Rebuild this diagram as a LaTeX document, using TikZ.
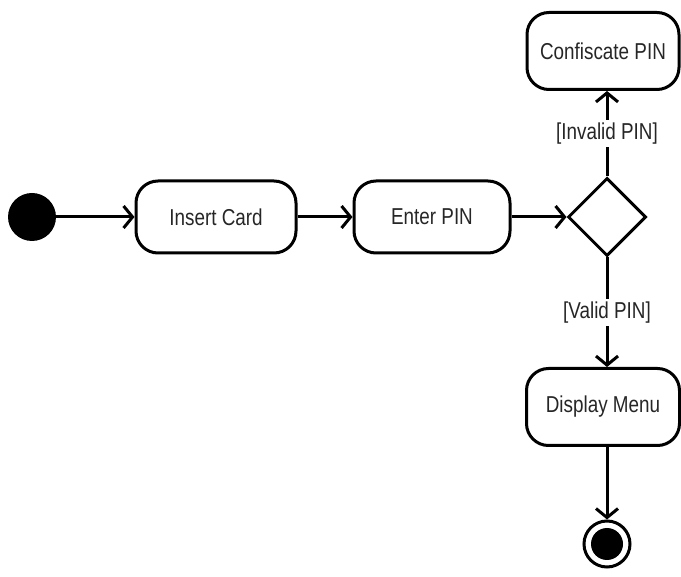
\documentclass[tikz,border=0pt]{standalone}
\usepackage{fontspec}
\setmainfont[FakeStretch=0.82]{Liberation Sans}
\usetikzlibrary{shapes.geometric,arrows.meta}
\tikzset{
  act/.style={draw, line width=3pt, rounded corners=22pt, minimum width=156pt,
    minimum height=72pt, inner sep=0pt, text=black!85},
  flow/.style={line width=3pt, -{Straight Barb[length=9pt,width=22pt,line width=3pt]}},
  guard/.style={fill=white, inner sep=3pt, text=black!85}
}
\begin{document}
\begin{tikzpicture}[x=1pt, y=-1pt, font=\fontsize{23}{26}\selectfont]
  \useasboundingbox (0,0) rectangle (681,577);
  % start and activities
  \node[circle, fill=black, minimum size=48pt, inner sep=0pt] (start) at (32,217) {};
  \node[act, minimum width=160pt] (insert) at (216,217) {Insert Card};
  \node[act] (enter) at (432,217) {Enter PIN};
  \node[diamond, draw, line width=3pt, minimum width=78pt, minimum height=78pt,
    inner sep=0pt] (check) at (607,217) {};
  \node[act, minimum width=152pt, minimum height=77pt] (confiscate) at (603,51) {Confiscate PIN};
  \node[act, minimum width=153pt, minimum height=77pt] (menu) at (603,407) {Display Menu};
  % end state
  \node[circle, draw, line width=3pt, minimum size=46pt, inner sep=0pt] (stop) at (607,544) {};
  \fill (stop.center) circle (16);
  % transitions
  \draw[flow] (start) -- (insert);
  \draw[flow] (insert) -- (enter);
  \draw[flow] (enter) -- (check);
  \draw[flow] (check.north) -- node[guard] {[Invalid PIN]} (check.north |- confiscate.south);
  \draw[flow] (check.south) -- node[guard] {[Valid PIN]} (check.south |- menu.north);
  \draw[flow] (menu.south -| stop.north) -- (stop.north);
\end{tikzpicture}
\end{document}
